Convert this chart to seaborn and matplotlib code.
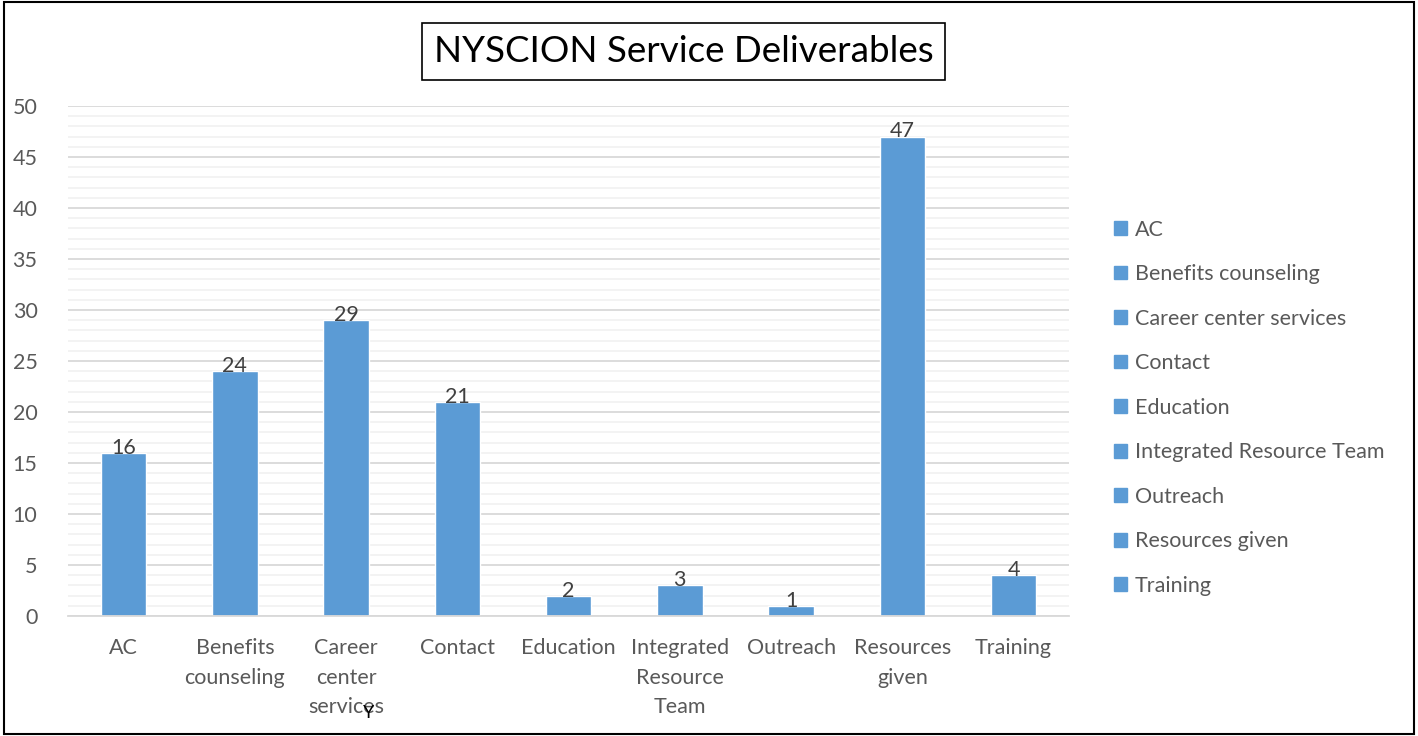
import numpy as np
import pandas as pd
import matplotlib
matplotlib.use("Agg")
import matplotlib.pyplot as plt
from matplotlib.patches import Rectangle
from matplotlib.ticker import MultipleLocator
import seaborn as sns

# data
categories = ["AC", "Benefits counseling", "Career center services", "Contact",
              "Education", "Integrated Resource Team", "Outreach",
              "Resources given", "Training"]
tick_labels = ["AC", "Benefits\ncounseling", "Career\ncenter\nservices", "Contact",
               "Education", "Integrated\nResource\nTeam", "Outreach",
               "Resources\ngiven", "Training"]
counts = [16, 24, 29, 21, 2, 3, 1, 47, 4]

BAR = "#5B9BD5"
GREY = "#595959"
FS = 15.5

sns.set_style("white")
plt.rcParams["font.family"] = ["Lato", "DejaVu Sans"]

df = pd.DataFrame({"service": categories, "count": counts})

fig = plt.figure(figsize=(14.18, 7.36), dpi=100)
ax = fig.add_axes([0.048, 0.163, 0.706, 0.693])

sns.barplot(data=df, x="service", y="count", hue="service",
            palette=[BAR] * len(categories), width=0.41, legend=False,
            saturation=1, ax=ax)

ax.set_ylim(0, 50)
ax.yaxis.set_major_locator(MultipleLocator(5))
ax.yaxis.set_minor_locator(MultipleLocator(1))
ax.grid(which="major", axis="y", color="#D9D9D9", lw=1.3)
ax.grid(which="minor", axis="y", color="#F2F2F2", lw=1.3)
ax.set_axisbelow(True)
for s in ["top", "right", "left"]:
    ax.spines[s].set_visible(False)
ax.spines["bottom"].set_color("#D9D9D9")
ax.spines["bottom"].set_linewidth(1.3)

ax.set_xticks(range(len(categories)))
ax.set_xticklabels(tick_labels, fontsize=FS, color=GREY, linespacing=1.58, va="top")
ax.tick_params(axis="both", length=0, labelsize=FS, labelcolor=GREY)
ax.tick_params(axis="x", pad=16)
ax.tick_params(axis="y", pad=22)
ax.set_xlabel("")
ax.set_ylabel("")

for i, v in enumerate(counts):
    ax.text(i, v + 0.5, str(v), ha="center", va="center", fontsize=FS, color="#404040")

# legend with square markers
handles = [Rectangle((0, 0), 1, 1, color=BAR) for _ in categories]
fig.legend(handles, categories, loc="upper left", bbox_to_anchor=(0.772, 0.728),
           frameon=False, fontsize=FS, labelcolor=GREY, handlelength=0.6,
           handleheight=0.6, handletextpad=0.35, labelspacing=1.14)

# boxed title
fig.text(0.482, 0.930, "NYSCION Service Deliverables", ha="center", va="center",
         fontsize=26.5, color="black",
         bbox=dict(boxstyle="square,pad=0.33", fc="white", ec="black", lw=1.2))

# stray mark under the third label (overlaps "services" in the original too)
fig.text(0.26, 0.031, "Y", ha="center", va="center", fontsize=13, color="black")

# outer frame
fig.patches.append(Rectangle((0.003, 0.003), 0.994, 0.994, transform=fig.transFigure,
                             fill=False, ec="black", lw=1.5))

fig.savefig("out.png", dpi=100)
